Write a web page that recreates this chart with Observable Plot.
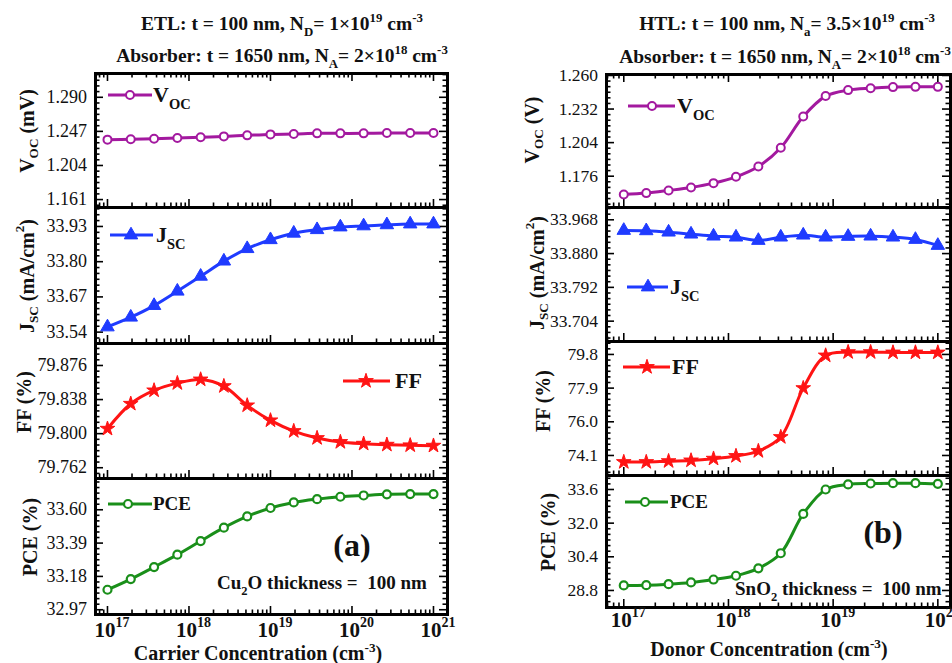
<!DOCTYPE html>
<html>
<head>
<meta charset="utf-8">
<script src="https://cdn.jsdelivr.net/npm/d3@7"></script>
<script src="https://cdn.jsdelivr.net/npm/@observablehq/plot@0.6"></script>
<style>
  body { margin: 0; background: #fff; }
  #fig { position: relative; width: 952px; height: 663px; overflow: hidden; background: #fff;
         font-family: "Liberation Serif", "DejaVu Serif", serif; }
  #fig > svg { position: absolute; }
  #overlay { left: 0; top: 0; pointer-events: none; }
</style>
</head>
<body>
<div id="fig"></div>
<script>
// ---- data: Cu2O HTL carrier concentration sweep (a) ----
const carrierConc = [1e17, 1.93e17, 3.73e17, 7.2e17, 1.39e18, 2.68e18, 5.18e18, 1e19,
                     1.93e19, 3.73e19, 7.2e19, 1.39e20, 2.68e20, 5.18e20, 1e21];
const vocA = [1.2366, 1.2370, 1.2378, 1.2387, 1.2395, 1.2407, 1.2420, 1.2432,
              1.2437, 1.2445, 1.2445, 1.2445, 1.2449, 1.2449, 1.2449];
const jscA = [33.559, 33.595, 33.638, 33.691, 33.746, 33.802, 33.848, 33.881,
              33.905, 33.918, 33.928, 33.932, 33.936, 33.939, 33.939];
const ffA  = [79.8055, 79.8333, 79.8482, 79.8563, 79.8604, 79.8530, 79.8315, 79.8148,
              79.8029, 79.7951, 79.7907, 79.7888, 79.7877, 79.7870, 79.7866];
const pceA = [33.096, 33.163, 33.239, 33.317, 33.403, 33.487, 33.558, 33.611,
              33.646, 33.667, 33.682, 33.690, 33.697, 33.699, 33.699];

// ---- data: SnO2 ETL donor concentration sweep (b) ----
const donorConc = [1e17, 1.64e17, 2.68e17, 4.39e17, 7.2e17, 1.18e18, 1.93e18, 3.16e18,
                   5.18e18, 8.48e18, 1.39e19, 2.28e19, 3.73e19, 6.11e19, 1e20];
const vocB = [1.1608, 1.1619, 1.1641, 1.1666, 1.1702, 1.1755, 1.1841, 1.1997,
              1.2258, 1.2428, 1.2478, 1.2494, 1.2503, 1.2505, 1.2505];
const jscB = [33.9402, 33.9393, 33.9358, 33.9306, 33.9254, 33.9228, 33.9141, 33.9228,
              33.9280, 33.9228, 33.9246, 33.9254, 33.9228, 33.9167, 33.9011];
const ffB  = [73.73, 73.73, 73.78, 73.82, 73.92, 74.07, 74.35, 75.14,
              77.90, 79.74, 79.93, 79.93, 79.91, 79.91, 79.91];
const pceB = [29.04, 29.05, 29.10, 29.18, 29.32, 29.50, 29.85, 30.57,
              32.44, 33.60, 33.84, 33.885, 33.90, 33.90, 33.87];

// ---- tick values ----
const decadesA = [1e17, 1e18, 1e19, 1e20, 1e21];
const decadesB = [1e17, 1e18, 1e19, 1e20];
const ticksVocA = [1.161, 1.204, 1.247, 1.290];
const ticksJscA = [33.54, 33.67, 33.80, 33.93];
const ticksFfA  = [79.762, 79.800, 79.838, 79.876];
const ticksPceA = [32.97, 33.18, 33.39, 33.60];
const ticksVocB = [1.176, 1.204, 1.232, 1.260];
const ticksJscB = [33.704, 33.792, 33.880, 33.968];
const ticksFfB  = [74.1, 76.0, 77.9, 79.8];
const ticksPceB = [28.8, 30.4, 32.0, 33.6];

// ---- styling ----
const FONT = '"Liberation Serif", "DejaVu Serif", serif';
const Y_SUB = 6;
const styles = {
  voc: {color: "#a3199f", symbol: "circle", r: 4, fill: "#fff", sw: 2},
  jsc: {color: "#1f3bff", symbol: "triangle", r: 5, fill: "#1f3bff", sw: 1},
  ff:  {color: "#ff1414", symbol: "star", r: 4.6, fill: "#ff1414", sw: 1},
  pce: {color: "#1a8f1a", symbol: "circle", r: 4, fill: "#fff", sw: 2.2}
};

const panels = [
  {svgLeft: 0, svgWidth: 476, frameLeft: 95, frameRight: 447, tickFont: 18,
   xDomain: [10 ** 16.853, 10 ** 21.172], majorX: decadesA, x: carrierConc,
   rows: [
     {y: vocA, top: 73,  bottom: 207, domain: [1.151, 1.320],    ticks: ticksVocA, digits: 3, s: styles.voc},
     {y: jscA, top: 207, bottom: 343, domain: [33.498, 34.0],    ticks: ticksJscA, digits: 2, s: styles.jsc},
     {y: ffA,  top: 343, bottom: 478, domain: [79.750, 79.9005], ticks: ticksFfA,  digits: 3, s: styles.ff},
     {y: pceA, top: 478, bottom: 614, domain: [32.94, 33.797],   ticks: ticksPceA, digits: 2, s: styles.pce}
   ]},
  {svgLeft: 476, svgWidth: 476, frameLeft: 606, frameRight: 950, tickFont: 17.5,
   xDomain: [10 ** 16.835, 10 ** 20.121], majorX: decadesB, x: donorConc,
   rows: [
     {y: vocB, top: 74,  bottom: 207, domain: [1.1499, 1.2608], ticks: ticksVocB, digits: 3, s: styles.voc},
     {y: jscB, top: 207, bottom: 341, domain: [33.651, 34.0],   ticks: ticksJscB, digits: 3, s: styles.jsc},
     {y: ffB,  top: 341, bottom: 475, domain: [72.97, 80.53],   ticks: ticksFfB,  digits: 1, s: styles.ff},
     {y: pceB, top: 475, bottom: 607, domain: [27.99, 34.265],  ticks: ticksPceB, digits: 1, s: styles.pce}
   ]}
];

const fig = document.getElementById("fig");
const yTickLabels = [];   // filled from each plot's y scale, drawn on the text layer

function buildRow(panel, row, isTop, isBottom) {
  const W = panel.frameRight - panel.frameLeft;
  const H = row.bottom - row.top;
  const mt = 4, mb = isBottom ? 663 - row.bottom : 4;
  const ml = panel.frameLeft - panel.svgLeft;
  const mr = panel.svgLeft + panel.svgWidth - panel.frameRight;

  // minor y ticks between (and beyond) the labelled values
  const step = (row.ticks[1] - row.ticks[0]) / Y_SUB;
  const minorY = [];
  for (let k = -3 * Y_SUB; k <= (row.ticks.length + 2) * Y_SUB; k++) {
    if (k % Y_SUB === 0) continue;
    const v = row.ticks[0] + k * step;
    if (v > row.domain[0] && v < row.domain[1]) minorY.push(v);
  }
  // log minor x ticks at 2..9 x 10^n
  const minorX = [];
  for (let e = 16; e <= 21; e++) for (let m = 2; m <= 9; m++) {
    const v = m * 10 ** e;
    if (v > panel.xDomain[0] && v < panel.xDomain[1]) minorX.push(v);
  }

  const pts = panel.x.map((x, i) => ({x, y: row.y[i]}));
  const s = row.s;
  const tk = {stroke: "#000", strokeWidth: 1.6};
  const marks = [
    Plot.ruleX(panel.majorX, {x: d => d, insetTop: H - 8, ...tk}),
    Plot.ruleX(minorX, {x: d => d, insetTop: H - 4.5, ...tk}),
    Plot.ruleY(row.ticks, {y: d => d, insetRight: W - 8, ...tk}),
    Plot.ruleY(row.ticks, {y: d => d, insetLeft: W - 8, ...tk}),
    Plot.ruleY(minorY, {y: d => d, insetRight: W - 4.5, ...tk}),
    Plot.ruleY(minorY, {y: d => d, insetLeft: W - 4.5, ...tk}),
    Plot.line(pts, {x: "x", y: "y", stroke: s.color, strokeWidth: 3, curve: "catmull-rom"}),
    Plot.dot(pts, {x: "x", y: "y", symbol: s.symbol, r: s.r, fill: s.fill,
                   stroke: s.color, strokeWidth: s.sw}),
    Plot.frame({stroke: "#000", strokeWidth: 3})
  ];
  if (isTop) {
    marks.push(Plot.ruleX(panel.majorX, {x: d => d, insetBottom: H - 8, ...tk}));
    marks.push(Plot.ruleX(minorX, {x: d => d, insetBottom: H - 4.5, ...tk}));
  }
  if (isBottom) {
    const dyBase = panel === panels[0] ? 22 : 19;
    marks.push(Plot.text(panel.majorX, {x: d => d, frameAnchor: "bottom", text: () => "10",
      textAnchor: "end", lineAnchor: "bottom", dx: 8, dy: dyBase, fontSize: 21, fontWeight: "bold", fill: "#111"}));
    marks.push(Plot.text(panel.majorX, {x: d => d, frameAnchor: "bottom", text: d => String(Math.round(Math.log10(d))),
      textAnchor: "start", lineAnchor: "bottom", dx: 8, dy: dyBase - 10, fontSize: 14, fontWeight: "bold", fill: "#111"}));
  }

  const svg = Plot.plot({
    width: panel.svgWidth,
    height: H + mt + mb,
    marginLeft: ml, marginRight: mr, marginTop: mt, marginBottom: mb,
    x: {type: "log", domain: panel.xDomain, axis: null},
    y: {domain: row.domain, axis: null},
    style: {background: "transparent", overflow: "visible", fontFamily: FONT, fontSize: "17px", color: "#111"},
    marks
  });
  svg.style.left = panel.svgLeft + "px";
  svg.style.top = (row.top - mt) + "px";
  fig.appendChild(svg);

  // y tick labels positioned with this plot's own y scale
  const yScale = svg.scale("y");
  row.ticks.forEach(v => yTickLabels.push({
    x: panel.frameLeft - 8,
    y: row.top - mt + yScale.apply(v),
    text: v.toFixed(row.digits),
    size: panel.tickFont
  }));
}

panels.forEach(p => p.rows.forEach((r, i) => buildRow(p, r, i === 0, i === p.rows.length - 1)));

// ---- text layer: tick labels, titles, axis titles, legends, annotations ----
const overlay = d3.select(fig).append("svg").attr("id", "overlay")
  .attr("width", 952).attr("height", 663)
  .attr("font-family", FONT).style("fill", "#111");

overlay.selectAll("text.ytick").data(yTickLabels).join("text")
  .attr("class", "ytick")
  .attr("x", d => d.x).attr("y", d => d.y)
  .attr("text-anchor", "end").attr("dominant-baseline", "central")
  .attr("font-size", d => d.size).attr("font-weight", "normal")
  .text(d => d.text);

function rich(sel, parts, size) {
  let shift = 0;
  parts.forEach(([t, k]) => {
    const target = k === "sub" ? size * 0.3 : k === "sup" ? -size * 0.4 : 0;
    const ts = sel.append("tspan").text(t).attr("dy", target - shift);
    if (k) ts.attr("font-size", size * 0.66);
    shift = target;
  });
}

function label({x, y, parts, size = 18, weight = "bold", anchor = "middle", rotate = false}) {
  const t = overlay.append("text")
    .attr("font-size", size).attr("font-weight", weight)
    .attr("text-anchor", anchor).style("white-space", "pre");
  if (rotate) t.attr("transform", `translate(${x},${y}) rotate(-90)`).attr("dominant-baseline", "central");
  else t.attr("x", x).attr("y", y);
  rich(t, parts, size);
}

const titleA1 = [["ETL: t = 100 nm, N"], ["D", "sub"], ["= 1×10"], ["19", "sup"], [" cm"], ["-3", "sup"]];
const titleA2 = [["Absorber: t = 1650 nm, N"], ["A", "sub"], ["= 2×10"], ["18", "sup"], [" cm"], ["-3", "sup"]];
const titleB1 = [["HTL: t = 100 nm, N"], ["a", "sub"], ["= 3.5×10"], ["19", "sup"], [" cm"], ["-3", "sup"]];
label({x: 282, y: 30, parts: titleA1, size: 19.5});
label({x: 282, y: 62, parts: titleA2, size: 19.5});
label({x: 787, y: 30, parts: titleB1, size: 19.5});
label({x: 785, y: 63, parts: titleA2, size: 19.5});

const yTitleVocA = [["V"], ["OC", "sub"], [" (mV)"]];
const yTitleVocB = [["V"], ["OC", "sub"], [" (V)"]];
const yTitleJsc  = [["J"], ["SC", "sub"], [" (mA/cm"], ["2", "sup"], [")"]];
const yTitleFf   = [["FF (%)"]];
const yTitlePce  = [["PCE (%)"]];
[[27, 131, yTitleVocA], [27, 276, yTitleJsc], [24, 402, yTitleFf], [30, 537, yTitlePce],
 [532, 130, yTitleVocB], [537, 273, yTitleJsc], [543, 401, yTitleFf], [548, 532, yTitlePce]]
  .forEach(([x, y, parts]) => label({x, y, parts, size: 20, rotate: true}));

label({x: 258, y: 660, parts: [["Carrier Concentration (cm"], ["-3", "sup"], [")"]], size: 20});
label({x: 769, y: 656, parts: [["Donor Concentration (cm"], ["-3", "sup"], [")"]], size: 20});

label({x: 352, y: 556, parts: [["(a)"]], size: 32});
label({x: 883, y: 543, parts: [["(b)"]], size: 32});
label({x: 217, y: 589, parts: [["Cu"], ["2", "sub"], ["O thickness =  100 nm"]], size: 19, anchor: "start"});
label({x: 735, y: 595, parts: [["SnO"], ["2", "sub"], [" thickness =  100 nm"]], size: 19, anchor: "start"});

// legend entries
const d3Sym = {circle: d3.symbolCircle, triangle: d3.symbolTriangle, star: d3.symbolStar};
const nameVoc = [["V"], ["OC", "sub"]], nameJsc = [["J"], ["SC", "sub"]];
const legends = [
  {x1: 108, x2: 152, y: 95,  mx: 130, tx: 153, s: styles.voc, parts: nameVoc, size: 22},
  {x1: 110, x2: 153, y: 235, mx: 131, tx: 156, s: styles.jsc, parts: nameJsc, size: 22},
  {x1: 343, x2: 390, y: 381, mx: 366, tx: 395, s: styles.ff,  parts: [["FF"]], size: 22},
  {x1: 108, x2: 152, y: 504, mx: 128, tx: 153, s: styles.pce, parts: [["PCE"]], size: 19},
  {x1: 628, x2: 675, y: 106, mx: 652, tx: 677, s: styles.voc, parts: nameVoc, size: 22},
  {x1: 627, x2: 668, y: 287, mx: 648, tx: 670, s: styles.jsc, parts: nameJsc, size: 22},
  {x1: 623, x2: 670, y: 367, mx: 647, tx: 672, s: styles.ff,  parts: [["FF"]], size: 22},
  {x1: 625, x2: 668, y: 502, mx: 645, tx: 670, s: styles.pce, parts: [["PCE"]], size: 19}
];
legends.forEach(l => {
  overlay.append("line").attr("x1", l.x1).attr("x2", l.x2).attr("y1", l.y).attr("y2", l.y)
    .attr("stroke", l.s.color).attr("stroke-width", 3);
  overlay.append("path")
    .attr("d", d3.symbol(d3Sym[l.s.symbol], Math.PI * l.s.r * l.s.r)())
    .attr("transform", `translate(${l.mx},${l.y})`)
    .attr("fill", l.s.fill).attr("stroke", l.s.color).attr("stroke-width", l.s.sw);
  label({x: l.tx, y: l.y + l.size * 0.33, parts: l.parts, size: l.size, anchor: "start"});
});
</script>
</body>
</html>
